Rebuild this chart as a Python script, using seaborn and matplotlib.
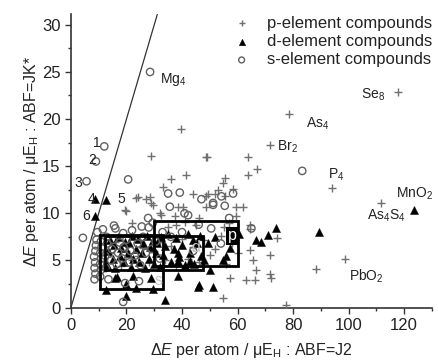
import matplotlib
matplotlib.use('Agg')
import matplotlib.pyplot as plt
import matplotlib.patches as mpatches
import seaborn as sns
import pandas as pd

# s-element compounds (open circles)
s_x = [28.5, 12, 9, 5.6, 20.6, 83.3, 35, 39.2, 51.2, 35.6, 40.9, 27.8, 42.2, 51.2, 55.4, 58.4, 54.2, 65, 18.8, 18.8, 4.3, 57, 47,
       8.5, 8.8, 8.5, 8.7, 8.3, 8.8, 9.0, 9.2, 9.5, 10.5, 10.8, 10.5, 10.9, 10.6, 11.0, 10.8, 12.5, 12.3, 13.0, 12.8, 14.5, 14.8,
       15.2, 16.5, 17.0, 17.5, 18.5, 19.0, 20.0, 21.0, 21.5, 22.0, 23.0, 24.0, 25.0, 26.0, 27.0, 28.0, 29.0, 30.5, 32.0, 33.0,
       16.0, 13.5, 19.5, 24.5, 15.5, 11.5, 36, 40, 44, 50.5, 54, 46, 25.5, 29.5]
s_y = [25, 17.1, 15.5, 13.4, 13.6, 14.5, 12.1, 12.2, 11.1, 10.7, 10.0, 9.5, 9.8, 10.9, 10.8, 12.1, 11.8, 8.4, 0.6, 7.9, 7.4, 9.5, 11.5,
       3.0, 3.6, 4.2, 4.8, 5.4, 6.0, 6.6, 7.2, 8.0, 3.3, 4.0, 4.6, 5.2, 5.8, 6.4, 7.0, 4.2, 5.5, 6.8, 7.5, 5.0, 6.2,
       7.2, 4.6, 5.8, 6.9, 5.2, 6.4, 7.2, 4.8, 6.0, 8.2, 5.5, 6.8, 4.5, 7.5, 5.8, 8.5, 6.2, 7.0, 5.2, 8.0,
       8.4, 3.0, 2.6, 2.8, 8.7, 8.3, 7.5, 8.0, 6.0, 8.4, 6.8, 8.8, 8.6, 9.0]

# d-element compounds (filled triangles)
d_x = [8.6, 12.8, 8.6, 123.7, 89.3, 73.7, 71, 68.6, 66.8, 57.2, 54.6, 51.2, 46.2, 38.6, 33.8, 20, 15.8, 22.4, 29, 23.6, 29.6,
       12.8, 45.8, 50, 42.8, 38.6, 38.6, 49.4, 60.5, 52, 56, 44, 47,
       13, 13.5, 14, 15, 15.5, 16, 17, 17.5, 18, 19, 19.5, 20.5, 21, 21.5, 22, 22.5, 23.5, 24, 24.5, 25.5, 26, 26.5,
       27.5, 28, 28.5, 29.5, 30, 30.5, 31, 32, 32.5, 33, 34, 35, 36, 37, 38, 39, 40, 41, 42, 43, 44.5, 45.5, 46.5, 48,
       16.5, 20]
d_y = [11.5, 11.4, 9.7, 10.4, 8.0, 8.4, 7.7, 7.0, 7.2, 6.3, 5.1, 2.2, 2.4, 3.3, 0.8, 1.2, 3.1, 3.3, 3.1, 2.1, 2.0,
       1.9, 2.2, 4.0, 4.9, 4.9, 5.8, 6.8, 7.8, 7.5, 5.5, 7.2, 5.5,
       4.5, 6.0, 7.2, 5.2, 6.6, 4.2, 7.5, 5.5, 6.3, 4.8, 7.0, 5.8, 6.8, 4.3, 7.6, 5.2, 6.2, 7.3, 4.8, 5.8, 6.9, 4.2,
       7.6, 5.2, 6.4, 7.2, 4.6, 5.8, 6.8, 4.3, 7.5, 5.6, 6.5, 7.8, 4.8, 6.2, 7.4, 5.4, 6.6, 4.5, 7.8, 5.8, 4.6, 6.8, 7.6, 5.0,
       3.2, 2.5]

# p-element compounds (plus signs)
p_x = [117.7, 78.5, 71.8, 94, 111.7, 98.8, 88.1, 77.3, 54.6, 48.8, 63.8, 67, 63.8, 55.4, 39.8, 29, 49, 41.6, 23.6, 27.2,
       44, 48.8, 29, 19.8, 32, 38.6, 40.2, 37.4, 41, 24.2, 28.4, 29.6, 19.4, 32.6, 49.4, 55.4, 62, 59.6, 64.4, 65.6,
       66.8, 63.2, 54.8, 51.8, 58.4, 48.8, 59.6, 64.4, 64.4, 71.6, 74.2, 57.2, 66.2, 71.6, 72.2, 53, 46, 36, 33,
       14, 16, 18, 20, 22, 24, 26, 28, 30, 32, 34, 36, 38, 40, 42, 44, 46, 48, 50, 52, 54, 56, 58, 60, 35, 45, 55, 57, 22, 38]
p_y = [22.9, 20.5, 17.3, 12.7, 11.1, 5.2, 4.1, 0.3, 1.0, 16.0, 16.0, 14.7, 14.1, 13.8, 18.9, 16.1, 16.0, 14.1, 11.6, 11.5,
       12.0, 11.8, 11.1, 10.2, 10.0, 10.7, 10.7, 9.7, 9.1, 11.7, 11.7, 10.9, 10.4, 9.8, 12.0, 11.8, 10.7, 10.7, 8.8, 5.1,
       4.0, 2.9, 13.2, 12.0, 12.6, 10.7, 9.7, 8.3, 6.1, 5.6, 7.4, 3.1, 2.9, 3.6, 3.1, 12.5, 9.5, 13.6, 12.8,
       5.8, 7.0, 4.4, 6.0, 5.0, 5.5, 6.3, 4.8, 6.0, 7.0, 5.0, 6.5, 4.5, 7.3, 5.2, 6.4, 4.8, 7.2, 5.6, 6.2, 7.6, 4.6, 6.8, 5.8,
       8.5, 8.8, 8.5, 9.0, 9.0, 8.8]

# named compounds
name_text = ['Mg$_4$', '1', '2', '3', '4', '5', '6', 'Se$_8$', 'As$_4$', 'Br$_2$', 'P$_4$', 'As$_4$S$_4$', 'MnO$_2$', 'PbO$_2$']
name_x = [32, 8, 6.1, 1.2, 5.9, 16.7, 4.2, 104.5, 84.5, 74.2, 92.5, 106.5, 117, 100]
name_y = [24.2, 17.5, 15.7, 13.2, 11.5, 11.5, 9.7, 22.6, 19.5, 17.1, 14.1, 9.7, 12.1, 3.3]

# region boxes: label, x0, y0, width, height, label x, label y
box_label = ['s', 'd', 'p']
box_x0 = [10.4, 12.2, 30.0]
box_y0 = [1.95, 4.0, 4.45]
box_w = [22.8, 35.3, 30.2]
box_h = [5.8, 3.6, 4.7]
box_lx = [31.6, 45.0, 58.0]
box_ly = [2.9, 6.4, 7.6]

sns.set_style('ticks')
plt.rcParams['font.family'] = ['Liberation Sans', 'DejaVu Sans']
plt.rcParams['mathtext.fontset'] = 'custom'
plt.rcParams['mathtext.rm'] = 'Liberation Sans'
plt.rcParams['mathtext.it'] = 'Liberation Sans:italic'

fig = plt.figure(figsize=(4.38, 3.61), dpi=100)
ax = fig.add_axes([0.162, 0.148, 0.824, 0.812])

df_p = pd.DataFrame({'x': p_x, 'y': p_y})
df_s = pd.DataFrame({'x': s_x, 'y': s_y})
df_d = pd.DataFrame({'x': d_x, 'y': d_y})

sns.scatterplot(data=df_p, x='x', y='y', ax=ax, marker='+', s=34, color='#707070', linewidth=1.0,
                label='p-element compounds', zorder=3)
sns.scatterplot(data=df_d, x='x', y='y', ax=ax, marker='^', s=34, color='black', edgecolor='black', linewidth=0.3,
                label='d-element compounds', zorder=4)
sns.scatterplot(data=df_s, x='x', y='y', ax=ax, marker='o', s=28, facecolor='none', edgecolor='#606060', linewidth=1.0,
                label='s-element compounds', zorder=5)

ax.axline((0, 0), slope=1, color='#333333', lw=0.9, zorder=2)

for lab, x0, y0, w, h, lx, ly in zip(box_label, box_x0, box_y0, box_w, box_h, box_lx, box_ly):
    ax.add_patch(mpatches.Rectangle((x0, y0), w, h, fill=False, edgecolor='black', lw=2.0, zorder=6))
    ax.text(lx, ly, lab, fontsize=11.5, color='white' if lab == 'p' else '#c8c8c8', ha='center', va='center',
            zorder=7, bbox=dict(boxstyle='square,pad=0.1', fc='black', ec='none') if lab == 'p' else None)

for t, x, y in zip(name_text, name_x, name_y):
    ax.text(x, y, t, fontsize=10, color='#222222', ha='left', va='center', zorder=8)

ax.set_xlim(0, 130)
ax.set_ylim(0, 31.1)
ax.set_xticks([0, 20, 40, 60, 80, 100, 120])
ax.set_xticks([10, 30, 50, 70, 90, 110, 130], minor=True)
ax.set_yticks([0, 5, 10, 15, 20, 25, 30])
ax.set_yticks([2.5, 7.5, 12.5, 17.5, 22.5, 27.5], minor=True)
ax.tick_params(axis='both', which='major', labelsize=12, length=4, width=1.0, colors='#333333', labelcolor='#222222')
ax.tick_params(axis='both', which='minor', length=2.5, width=1.0, colors='#333333')
sns.despine(ax=ax)
for sp in ['left', 'bottom']:
    ax.spines[sp].set_linewidth(1.2)
    ax.spines[sp].set_color('#333333')

ax.set_xlabel(r'$\Delta\mathit{E}$ per atom / $\mathrm{\mu E_H}$ : ABF=J2', fontsize=11.5, color='#222222', labelpad=6)
ax.set_ylabel(r'$\Delta\mathit{E}$ per atom / $\mathrm{\mu E_H}$ : ABF=JK*', fontsize=11.5, color='#222222', labelpad=1)

leg = ax.legend(loc='upper right', bbox_to_anchor=(1.03, 1.03), frameon=False, fontsize=12,
                handletextpad=0.8, labelspacing=0.2, borderaxespad=0.2, markerscale=0.8, handlelength=1.5)
for txt in leg.get_texts():
    txt.set_color('#222222')

fig.savefig('out.png', dpi=100)
